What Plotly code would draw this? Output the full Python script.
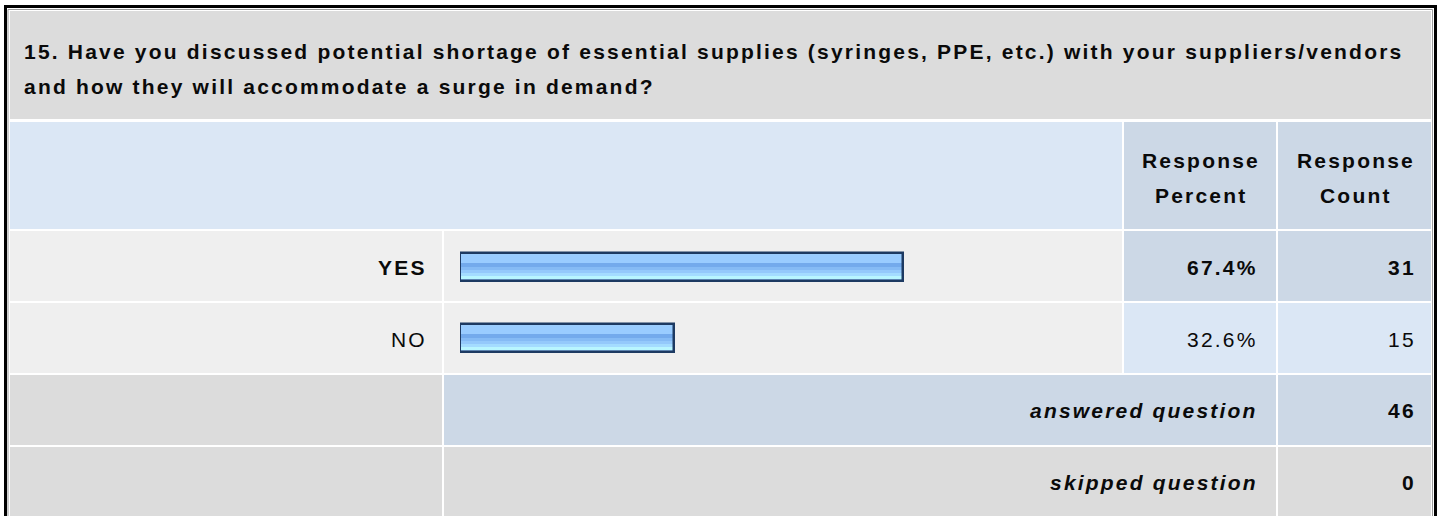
import plotly.graph_objects as go

# ---------------- data ----------------
question_lines = [
    "15. Have you discussed potential shortage of essential supplies (syringes, PPE, etc.) with your suppliers/vendors",
    "and how they will accommodate a surge in demand?",
]
header_percent = ["Response", "Percent"]
header_count = ["Response", "Count"]
answers = ["YES", "NO"]
response_percent = [67.4, 32.6]
response_count = [31, 15]
answered_label = "answered question"
answered_count = 46
skipped_label = "skipped question"
skipped_count = 0

W, H = 1440, 516
FONT = "Liberation Sans, Arial, Helvetica, sans-serif"
TXT = "#0a0a0a"
FS = 21
LS = 2.2  # letter spacing px


def px(x):
    return x / W


def py(y):
    return 1 - y / H


def sp(text, ls=LS):
    return f'<span style="letter-spacing:{ls}px">{text}</span>'


GRAY = "#dcdcdc"
LIGHT = "#efefef"
BLUE_L = "#dbe7f5"
BLUE_D = "#ccd8e6"

# columns / rows in px
C0 = (10, 442)
C1 = (444, 1122)
C2 = (1124, 1276)
C3 = (1278, 1431)
R_TITLE = (11, 119)
R_HEAD = (122, 229)
R_YES = (231, 301)
R_NO = (303, 373)
R_ANS = (375, 445)
R_SKIP = (447, 530)

shapes = []


def cell(xr, yr, color):
    shapes.append(dict(type="rect", xref="paper", yref="paper",
                       x0=px(xr[0]), x1=px(xr[1]), y0=py(yr[1]), y1=py(yr[0]),
                       fillcolor=color, line=dict(width=0), layer="below"))


# outer borders
shapes.append(dict(type="rect", xref="paper", yref="paper",
                   x0=px(5.5), x1=px(1435.5), y0=py(540), y1=py(6.5),
                   fillcolor="white", line=dict(color="black", width=3), layer="below"))
shapes.append(dict(type="rect", xref="paper", yref="paper",
                   x0=px(8), x1=px(1432.5), y0=py(540), y1=py(9.5),
                   fillcolor="white", line=dict(color="#9a9a9a", width=1), layer="below"))

cell((C0[0], C3[1]), R_TITLE, GRAY)
cell((C0[0], C1[1]), R_HEAD, BLUE_L)
cell(C2, R_HEAD, BLUE_D)
cell(C3, R_HEAD, BLUE_D)
cell(C0, R_YES, LIGHT)
cell(C1, R_YES, LIGHT)
cell(C2, R_YES, BLUE_D)
cell(C3, R_YES, BLUE_D)
cell(C0, R_NO, LIGHT)
cell(C1, R_NO, LIGHT)
cell(C2, R_NO, BLUE_L)
cell(C3, R_NO, BLUE_L)
cell(C0, R_ANS, GRAY)
cell((C1[0], C2[1]), R_ANS, BLUE_D)
cell(C3, R_ANS, BLUE_D)
cell(C0, R_SKIP, GRAY)
cell((C1[0], C2[1]), R_SKIP, GRAY)
cell(C3, R_SKIP, GRAY)

ann = []


def text(x, y, s, anchor="right", size=FS, bold=True, italic=False):
    t = sp(s)
    if italic:
        t = f"<i>{t}</i>"
    if anchor == "right":
        x = x + LS + 2
    elif anchor == "center":
        x = x + LS / 2
    ann.append(dict(x=px(x), y=py(y), xref="paper", yref="paper", text=t,
                    showarrow=False, xanchor=anchor, yanchor="middle",
                    font=dict(family=FONT, size=size, color=TXT,
                              weight="bold" if bold else "normal")))


text(22, 51.5, question_lines[0], anchor="left")
text(22, 87, question_lines[1], anchor="left")
text(1200, 160, header_percent[0], anchor="center")
text(1200, 195, header_percent[1], anchor="center")
text(1355, 160, header_count[0], anchor="center")
text(1355, 195, header_count[1], anchor="center")

row_c = [267, 339]
for i, a in enumerate(answers):
    b = (i == 0)
    text(425, row_c[i], a, bold=b)
    text(1256, row_c[i], f"{response_percent[i]:.1f}%", bold=b)
    text(1414, row_c[i], f"{response_count[i]}", bold=b)

text(1256, 410, answered_label, italic=True)
text(1414, 410, str(answered_count))
text(1256, 482, skipped_label, italic=True)
text(1414, 482, str(skipped_count))

# ---------------- bars (gradient via stripes) ----------------
fig = go.Figure()
UNIT = (R_NO[1] - R_YES[0]) / 2.0  # px per row unit
BAR_H = 28
shift = 0.5
stripes = [  # (top px, height px, color)
    (0, 28, "#9ccdfc"),
    (2, 8, "#99ccff"),
    (10, 4, "#73aaec"),
    (14, 3, "#85bbf5"),
    (17, 3, "#94c9fb"),
    (20, 3, "#a4dcff"),
    (23, 3, "#b8f6ff"),
]
ypos = list(range(len(answers)))
for top, h, col in stripes:
    fig.add_trace(go.Bar(x=response_percent, y=ypos, orientation="h",
                         width=h / UNIT, offset=(top - BAR_H / 2 + shift) / UNIT,
                         marker=dict(color=col, line=dict(width=0)),
                         hoverinfo="skip", showlegend=False))
fig.add_trace(go.Bar(x=response_percent, y=ypos, orientation="h",
                     width=BAR_H / UNIT, offset=(-BAR_H / 2 + shift) / UNIT,
                     marker=dict(color="rgba(0,0,0,0)", line=dict(width=2.5, color="#1d3a62")),
                     hoverinfo="skip", showlegend=False))

fig.update_layout(
    width=W, height=H, margin=dict(l=0, r=0, t=0, b=0),
    paper_bgcolor="white", plot_bgcolor="rgba(0,0,0,0)",
    barmode="overlay", bargap=0,
    shapes=shapes, annotations=ann, showlegend=False,
    xaxis=dict(domain=[px(460), px(1117)], range=[0, 100], visible=False, fixedrange=True),
    yaxis=dict(domain=[py(R_NO[1]), py(R_YES[0])], range=[1.5, -0.5], visible=False, fixedrange=True),
)
fig.write_html("out.html", config={"displayModeBar": False},
               post_script="document.body.style.margin='0px';document.body.style.overflow='hidden';")
